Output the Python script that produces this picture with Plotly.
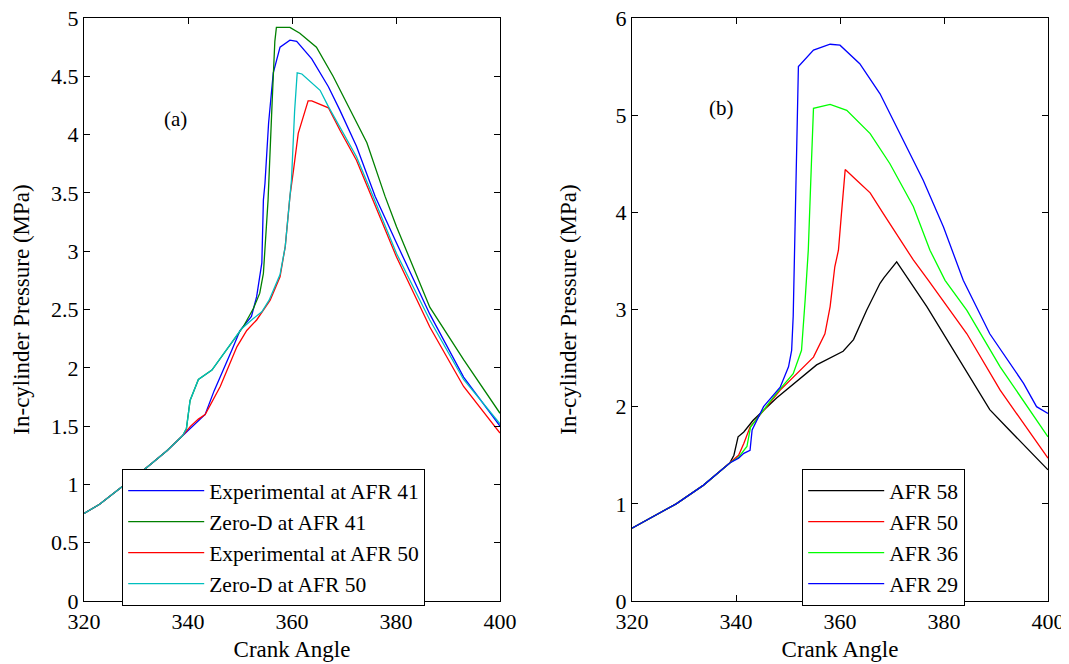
import plotly.graph_objects as go

# ---------------- Panel (a) data ----------------
exp41_x = [320, 323, 327, 330, 333, 336, 339, 340.5, 342, 343.3, 345, 346.8, 348.5, 350, 352.2, 353.2,
           354.2, 354.5, 354.8, 355.5, 356.4, 357.7, 359.6, 360.9, 363.8, 367, 369.2, 372.4, 376, 380.1,
           386.5, 393, 400]
exp41_y = [0.75, 0.83, 0.97, 1.07, 1.18, 1.29, 1.42, 1.48, 1.54, 1.60, 1.80, 1.98, 2.16, 2.32, 2.44, 2.61,
           2.90, 3.44, 3.58, 4.10, 4.53, 4.75, 4.81, 4.80, 4.65, 4.41, 4.21, 3.90, 3.47, 3.07,
           2.46, 1.92, 1.50]

zd41_x = [320, 323, 327, 330, 333, 336, 339, 339.7, 340.4, 342, 344.6, 347.4, 350.6, 352.6, 353.8, 354.5,
          354.8, 355.4, 356.2, 356.7, 357.0, 359.6, 361.5, 364.7, 367.9, 371.2, 374.4, 377.9, 380.1,
          386.5, 393, 400]
zd41_y = [0.75, 0.83, 0.97, 1.07, 1.18, 1.29, 1.42, 1.48, 1.72, 1.90, 1.98, 2.15, 2.35, 2.51, 2.64, 2.81,
          3.04, 3.44, 4.30, 4.80, 4.92, 4.92, 4.87, 4.75, 4.50, 4.21, 3.93, 3.47, 3.21,
          2.52, 2.07, 1.61]

exp50_x = [320, 323, 327, 330, 333, 336, 339, 340.5, 342, 343.3, 346.2, 349.4, 351.3, 353.2, 355.8, 357.7,
           358.7, 359.6, 360.3, 361.2, 363.1, 363.8, 367, 369.2, 372.4, 375.3, 380.1, 386.5, 393, 400]
exp50_y = [0.75, 0.83, 0.97, 1.07, 1.18, 1.29, 1.42, 1.50, 1.56, 1.60, 1.84, 2.18, 2.32, 2.41, 2.58, 2.78,
           3.04, 3.47, 3.70, 4.01, 4.29, 4.29, 4.23, 4.04, 3.78, 3.47, 2.95, 2.35, 1.84, 1.44]

zd50_x = [320, 323, 327, 330, 333, 336, 339, 339.7, 340.4, 342, 344.6, 347.4, 350.2, 352.5, 354.2, 355.6,
          356.5, 357.7, 358.7, 359.5, 359.9, 360.5, 361.0, 361.9, 365.4, 367, 369.2, 372.4, 375.6,
          380.1, 386.5, 393, 400]
zd50_y = [0.75, 0.83, 0.97, 1.07, 1.18, 1.29, 1.42, 1.48, 1.72, 1.90, 1.98, 2.15, 2.33, 2.42, 2.48, 2.58,
          2.68, 2.80, 3.04, 3.40, 3.61, 4.20, 4.53, 4.52, 4.38, 4.24, 4.07, 3.81, 3.47,
          2.98, 2.41, 1.90, 1.52]

# ---------------- Panel (b) data ----------------
afr58_x = [320, 324.7, 328.5, 333.7, 338.8, 339.6, 340.4, 341.5, 343.3, 347.8, 351.7, 355.5, 360.6, 362.6,
           365.1, 367.7, 368.5, 370.9, 376.7, 381.8, 388.8, 392, 400]
afr58_y = [0.75, 0.885, 1.0, 1.19, 1.42, 1.50, 1.69, 1.74, 1.86, 2.09, 2.26, 2.43, 2.57, 2.69,
           2.99, 3.27, 3.33, 3.49, 3.03, 2.58, 1.97, 1.79, 1.35]

afr50_x = [320, 324.7, 328.5, 333.7, 338.8, 340.5, 341.5, 342.7, 348.5, 351.7, 354.9, 357.1, 358.1, 359.0,
           359.7, 360.3, 361.0, 363.2, 365.8, 368.3, 370.9, 374.1, 377.0, 384.4, 390.8, 400]
afr50_y = [0.75, 0.885, 1.0, 1.19, 1.42, 1.50, 1.62, 1.79, 2.17, 2.34, 2.51, 2.75, 3.03, 3.44,
           3.61, 4.00, 4.44, 4.33, 4.20, 3.99, 3.78, 3.51, 3.30, 2.75, 2.17, 1.47]

afr36_x = [320, 324.7, 328.5, 333.7, 338.8, 340.5, 342.1, 342.8, 347.8, 351.0, 352.6, 353.3, 353.9, 354.5,
           354.9, 358.1, 361.3, 365.8, 369.6, 374.1, 377.3, 380.2, 384.4, 390.8, 400]
afr36_y = [0.75, 0.885, 1.0, 1.19, 1.42, 1.48, 1.59, 1.79, 2.14, 2.34, 2.58, 3.10, 3.61, 4.50,
           5.07, 5.11, 5.05, 4.81, 4.50, 4.06, 3.61, 3.30, 2.99, 2.41, 1.69]

afr29_x = [320, 324.7, 328.5, 333.7, 338.8, 340.5, 341.5, 342.7, 343.1, 345.3, 348.5, 350.1, 350.7, 351.0,
           351.3, 351.7, 352.0, 354.9, 358.1, 360.0, 363.8, 367.7, 372.2, 376.0, 379.9, 383.7, 388.8,
           395.3, 397.8, 400]
afr29_y = [0.75, 0.885, 1.0, 1.19, 1.42, 1.47, 1.52, 1.55, 1.76, 2.00, 2.20, 2.41, 2.58, 2.93,
           3.61, 4.60, 5.50, 5.67, 5.73, 5.72, 5.53, 5.22, 4.74, 4.33, 3.85, 3.30, 2.75,
           2.24, 2.00, 1.93]

names_a = ["Experimental at AFR 41", "Zero-D at AFR 41", "Experimental at AFR 50", "Zero-D at AFR 50"]
names_b = ["AFR 58", "AFR 50", "AFR 36", "AFR 29"]
colors_a = ["#0000ff", "#008000", "#ff0000", "#00bfbf"]
colors_b = ["#000000", "#ff0000", "#00ff00", "#0000ff"]

x_ticks = [320, 340, 360, 380, 400]
ya_ticks = [0, 0.5, 1, 1.5, 2, 2.5, 3, 3.5, 4, 4.5, 5]
yb_ticks = [0, 1, 2, 3, 4, 5, 6]

FONT = "Liberation Serif, Times New Roman, serif"
OFF = 8  # page body margin
W, H = 1069 - OFF, 664 - OFF
ML, MR, MT, MB = 84 - OFF, 21, 18 - OFF, 63
PW, PH = W - ML - MR, H - MT - MB


def px_x(p):
    return (p - OFF - ML) / PW


def px_y(p):
    return (H - MB - (p - OFF)) / PH


fig = go.Figure()

series_a = [(exp41_x, exp41_y), (zd41_x, zd41_y), (exp50_x, exp50_y), (zd50_x, zd50_y)]
for (xs, ys), nm, c in zip(series_a, names_a, colors_a):
    fig.add_trace(go.Scatter(x=xs, y=ys, mode="lines", name=nm, line=dict(color=c, width=1.3),
                             xaxis="x", yaxis="y", legend="legend"))

series_b = [(afr58_x, afr58_y), (afr50_x, afr50_y), (afr36_x, afr36_y), (afr29_x, afr29_y)]
for (xs, ys), nm, c in zip(series_b, names_b, colors_b):
    fig.add_trace(go.Scatter(x=xs, y=ys, mode="lines", name=nm, line=dict(color=c, width=1.3),
                             xaxis="x2", yaxis="y2", legend="legend2"))

axis_common = dict(showgrid=False, zeroline=False, showline=True, linecolor="black", linewidth=1.2,
                   mirror="ticks", ticks="inside", ticklen=6, tickcolor="black", tickwidth=1.2,
                   automargin=False, ticklabeloverflow="allow",
                   tickfont=dict(family=FONT, size=22, color="black"))
title_font = dict(family=FONT, size=23, color="black")
leg_font = dict(family=FONT, size=21.5, color="black")

fig.update_layout(
    width=W, height=H,
    margin=dict(l=ML, r=MR, t=MT, b=MB, autoexpand=False),
    paper_bgcolor="white", plot_bgcolor="white",
    font=dict(family=FONT, color="black"),
    xaxis=dict(domain=[0, px_x(500)], range=[320, 400], tickvals=x_ticks, anchor="y",
               ticklabelstandoff=0,
               title=dict(text="Crank Angle", font=title_font, standoff=8), **axis_common),
    yaxis=dict(domain=[0, 1], range=[0, 5], tickvals=ya_ticks, anchor="x",
               ticktext=[("%g" % v) for v in ya_ticks],
               title=dict(text="In-cylinder Pressure (MPa)", font=title_font, standoff=14),
               **axis_common),
    xaxis2=dict(domain=[px_x(632), 1], range=[320, 400], tickvals=x_ticks, anchor="y2",
                ticklabelstandoff=0,
                title=dict(text="Crank Angle", font=title_font, standoff=8), **axis_common),
    yaxis2=dict(domain=[0, 1], range=[0, 6], tickvals=yb_ticks, anchor="x2",
                title=dict(text="In-cylinder Pressure (MPa)", font=title_font, standoff=32),
                **axis_common),
    legend=dict(x=px_x(122), y=px_y(469), xanchor="left", yanchor="top", bgcolor="white",
                bordercolor="black", borderwidth=1.2, font=leg_font, itemwidth=76),
    legend2=dict(x=px_x(802), y=px_y(469), xanchor="left", yanchor="top", bgcolor="white",
                 bordercolor="black", borderwidth=1.2, font=leg_font, itemwidth=76),
    annotations=[
        dict(text="(a)", x=337.5, y=4.13, xref="x", yref="y", showarrow=False,
             font=dict(family=FONT, size=21, color="black")),
        dict(text="(b)", x=337.3, y=5.07, xref="x2", yref="y2", showarrow=False,
             font=dict(family=FONT, size=21, color="black")),
    ],
)

fig.write_html("out.html")
